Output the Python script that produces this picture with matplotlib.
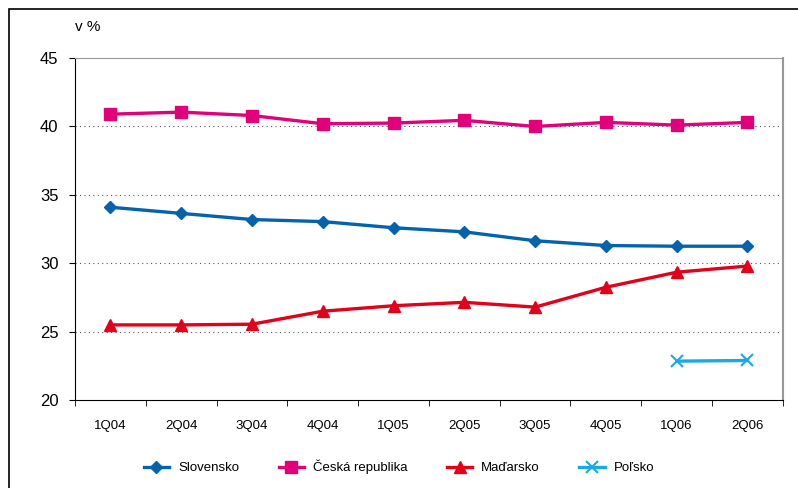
import matplotlib.pyplot as plt
import matplotlib.patches as patches
import numpy as np

plt.rcParams['font.family'] = ['Liberation Sans Narrow', 'Liberation Sans', 'DejaVu Sans']

quarters = ['1Q04', '2Q04', '3Q04', '4Q04', '1Q05', '2Q05', '3Q05', '4Q05', '1Q06', '2Q06']
slovensko = [34.1, 33.65, 33.2, 33.05, 32.6, 32.3, 31.65, 31.3, 31.25, 31.25]
cesko = [40.9, 41.05, 40.8, 40.2, 40.25, 40.45, 40.0, 40.3, 40.1, 40.3]
madarsko = [25.5, 25.5, 25.55, 26.5, 26.9, 27.15, 26.8, 28.25, 29.35, 29.8]
polsko = [22.85, 22.9]

x = np.arange(len(quarters))

fig = plt.figure(figsize=(7.98, 4.88), dpi=100)
ax = fig.add_axes([0.094, 0.180, 0.887, 0.701])

# frame around the whole figure (only left and top visible)
fig.patches.append(patches.Rectangle((9 / 798, -0.05), 1.1, 1 - 9 / 488 + 0.05,
                                     transform=fig.transFigure, fill=False,
                                     edgecolor='black', linewidth=1.2, clip_on=False))

ax.plot(x, slovensko, color='#0563AC', lw=2.4, marker='D', ms=6, label='Slovensko')
ax.plot(x, cesko, color='#E2007A', lw=2.4, marker='s', ms=8, label='Česká republika')
ax.plot(x, madarsko, color='#E2001A', lw=2.4, marker='^', ms=9, label='Maďarsko')
ax.plot(x[-2:], polsko, color='#19A9E6', lw=2.4, marker='x', ms=8, mew=1.5, label='Poľsko')

ax.set_xlim(-0.5, len(quarters) - 0.5)
ax.set_ylim(20, 45)
ax.set_yticks([20, 25, 30, 35, 40, 45])
for v in [25, 30, 35, 40]:
    ax.axhline(v, color='#555555', lw=0.8, ls=(0, (1, 3)), zorder=0)

ax.set_xticks(x)
ax.set_xticklabels(quarters, fontsize=9.5)
ax.set_xticks(np.arange(-0.5, len(quarters)), minor=True)
ax.tick_params(axis='x', which='major', length=0, pad=14)
ax.tick_params(axis='x', which='minor', length=4, direction='out')
ax.tick_params(axis='y', labelsize=12, length=4, direction='out', pad=8)

ax.spines['left'].set_color('black')
ax.spines['bottom'].set_color('black')
ax.spines['top'].set_color('#999999')
ax.spines['right'].set_color('#999999')
ax.spines['right'].set_linewidth(1.5)

fig.text(75 / 798, 1 - 27 / 488, 'v %', fontsize=11, va='center', ha='left')

fig.legend(loc='center', bbox_to_anchor=(0.5, 1 - 467 / 488), ncol=4, frameon=False,
           fontsize=9.5, handlelength=1.9, handletextpad=0.7, columnspacing=3.0)

fig.savefig('out.png', dpi=100)
